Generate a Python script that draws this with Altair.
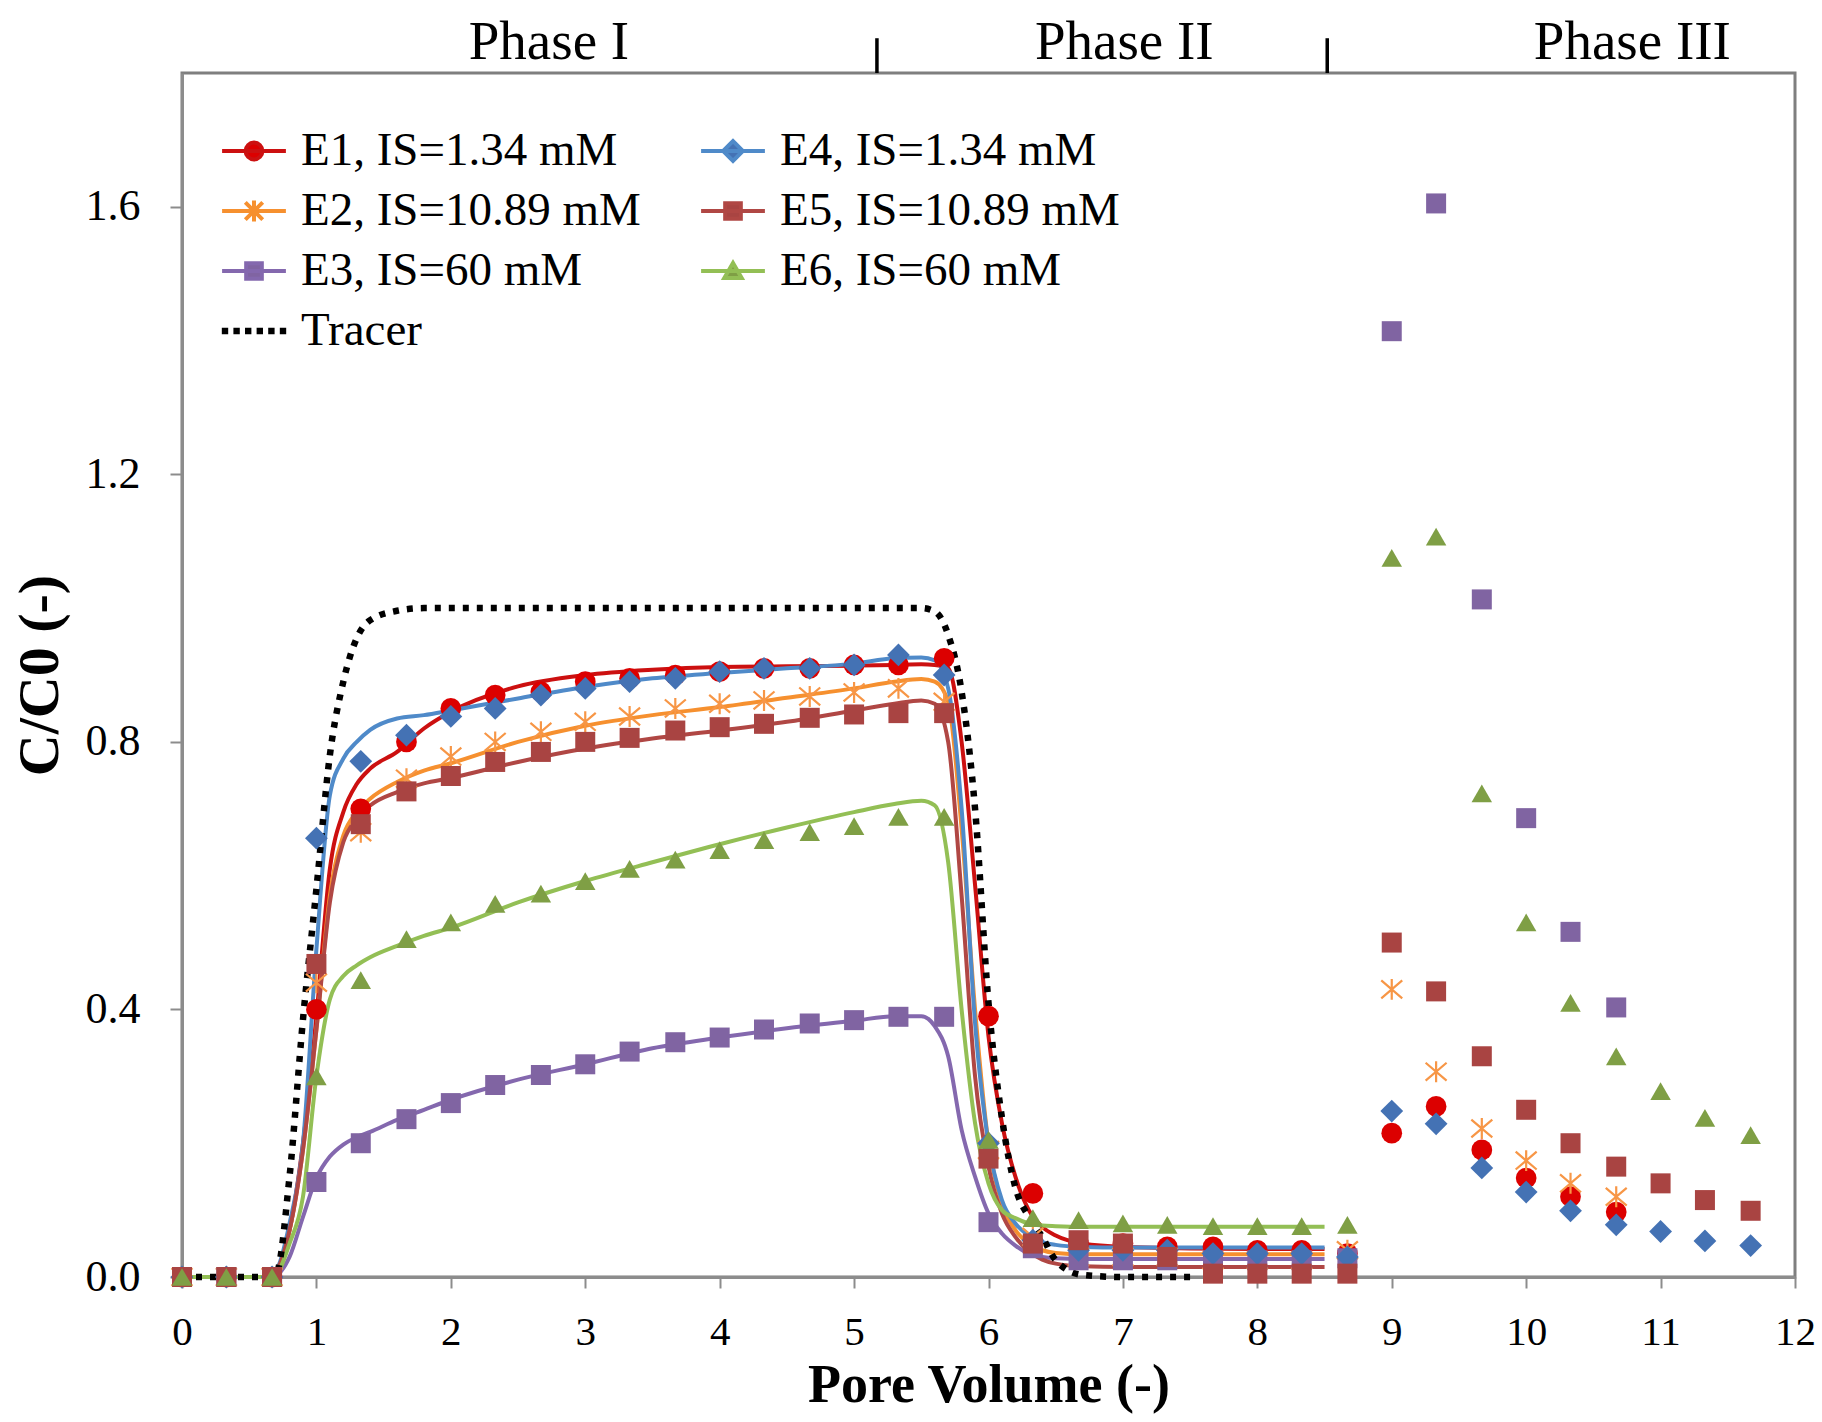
import altair as alt
import pandas as pd

# ---------------- data ----------------
PV = [0, 0.33, 0.67, 1, 1.33, 1.67, 2, 2.33, 2.67, 3, 3.33, 3.67, 4, 4.33, 4.67, 5,
      5.33, 5.67, 6, 6.33, 6.67, 7, 7.33, 7.67, 8, 8.33, 8.67, 9, 9.33, 9.67, 10,
      10.33, 10.67, 11, 11.33, 11.67]

E1 = [0, 0, 0, 0.40, 0.70, 0.80, 0.85, 0.87, 0.875, 0.89, 0.895, 0.90, 0.905, 0.91, 0.91, 0.915,
      0.915, 0.925, 0.39, 0.125, 0.05, 0.05, 0.045, 0.045, 0.04, 0.04, 0.035,
      0.215, 0.255, 0.19, 0.148, 0.12, 0.097, None, None, None]
E2 = [0, 0, 0, 0.44, 0.665, 0.745, 0.778, 0.80, 0.815, 0.83, 0.838, 0.85, 0.857, 0.862, 0.868, 0.874,
      0.88, 0.86, 0.19, 0.06, 0.03, 0.03, 0.03, 0.025, 0.025, 0.025, 0.04,
      0.43, 0.307, 0.222, 0.174, 0.14, 0.12, None, None, None]
E3 = [0, 0, 0, 0.142, 0.20, 0.236, 0.26, 0.287, 0.302, 0.318, 0.337, 0.351, 0.358, 0.37, 0.379, 0.384,
      0.389, 0.389, 0.082, 0.043, 0.025, 0.025, 0.025, 0.025, 0.025, 0.025, 0.028,
      1.414, 1.605, 1.013, 0.686, 0.516, 0.403, None, None, None]
E4 = [0, 0, 0, 0.656, 0.771, 0.81, 0.838, 0.85, 0.87, 0.88, 0.89, 0.895, 0.905, 0.91, 0.91, 0.915,
      0.93, 0.90, 0.20, 0.055, 0.04, 0.04, 0.04, 0.035, 0.035, 0.035, 0.03,
      0.248, 0.229, 0.163, 0.127, 0.099, 0.078, 0.068, 0.054, 0.047]
E5 = [0, 0, 0, 0.468, 0.677, 0.726, 0.749, 0.77, 0.785, 0.80, 0.806, 0.817, 0.822, 0.827, 0.836, 0.841,
      0.843, 0.843, 0.177, 0.05, 0.055, 0.05, 0.03, 0.005, 0.005, 0.005, 0.005,
      0.50, 0.427, 0.33, 0.25, 0.20, 0.165, 0.14, 0.115, 0.099]
E6 = [0, 0, 0, 0.30, 0.444, 0.505, 0.53, 0.558, 0.573, 0.592, 0.61, 0.624, 0.638, 0.653, 0.665, 0.674,
      0.688, 0.688, 0.205, 0.088, 0.085, 0.08, 0.078, 0.076, 0.076, 0.076, 0.078,
      1.075, 1.107, 0.723, 0.53, 0.41, 0.33, 0.278, 0.238, 0.212]

# model (fitted) curves
CX = [0, 0.6, 0.7, 0.8, 0.9, 1.0, 1.1, 1.2, 1.3, 1.4, 1.6, 1.8, 2.0, 2.5, 3.0, 3.5, 4.0, 4.5,
      5.0, 5.3, 5.5, 5.6, 5.7, 5.8, 5.9, 6.0, 6.1, 6.2, 6.3, 6.4, 6.5, 6.7, 7.0, 8.0, 8.5]
M1 = [0, 0, 0.01, 0.07, 0.20, 0.39, 0.61, 0.695, 0.737, 0.76, 0.785, 0.82, 0.845, 0.883, 0.90, 0.908,
      0.912, 0.913, 0.914, 0.915, 0.916, 0.915, 0.91, 0.80, 0.586, 0.36, 0.23, 0.15, 0.10, 0.075,
      0.062, 0.05, 0.045, 0.042, 0.042]
M2 = [0, 0, 0.01, 0.07, 0.19, 0.37, 0.57, 0.66, 0.695, 0.715, 0.74, 0.757, 0.768, 0.80, 0.824, 0.84,
      0.852, 0.866, 0.88, 0.89, 0.894, 0.89, 0.86, 0.67, 0.40, 0.20, 0.11, 0.07, 0.05, 0.04,
      0.036, 0.034, 0.034, 0.034, 0.034]
M3 = [0, 0, 0.003, 0.03, 0.09, 0.148, 0.18, 0.198, 0.209, 0.217, 0.235, 0.25, 0.265, 0.295, 0.318, 0.342,
      0.358, 0.372, 0.383, 0.39, 0.39, 0.375, 0.33, 0.22, 0.15, 0.095, 0.065, 0.047, 0.035, 0.03,
      0.028, 0.027, 0.027, 0.027, 0.027]
M4 = [0, 0, 0.01, 0.08, 0.20, 0.49, 0.72, 0.775, 0.80, 0.818, 0.835, 0.84, 0.847, 0.865, 0.882, 0.895,
      0.903, 0.91, 0.917, 0.925, 0.926, 0.922, 0.88, 0.70, 0.38, 0.20, 0.115, 0.08, 0.062, 0.052,
      0.048, 0.045, 0.044, 0.044, 0.044]
M5 = [0, 0, 0.01, 0.07, 0.19, 0.37, 0.56, 0.65, 0.685, 0.705, 0.725, 0.738, 0.746, 0.77, 0.79, 0.805,
      0.817, 0.83, 0.847, 0.857, 0.862, 0.857, 0.80, 0.57, 0.30, 0.165, 0.095, 0.06, 0.038, 0.026,
      0.02, 0.016, 0.015, 0.015, 0.015]
M6 = [0, 0, 0.005, 0.05, 0.12, 0.30, 0.415, 0.45, 0.466, 0.478, 0.495, 0.51, 0.522, 0.56, 0.592, 0.62,
      0.647, 0.672, 0.695, 0.707, 0.712, 0.705, 0.62, 0.40, 0.23, 0.14, 0.10, 0.088, 0.08, 0.077,
      0.076, 0.075, 0.075, 0.075, 0.075]

# tracer
TX = [0, 0.6, 0.7, 0.8, 0.9, 1.0, 1.1, 1.2, 1.3, 1.4, 1.6, 1.8, 2.5, 3.5, 4.5, 5.3, 5.5, 5.6, 5.7,
      5.8, 5.9, 6.0, 6.1, 6.2, 6.3, 6.4, 6.5, 6.7, 7.0, 7.5]
TY = [0, 0, 0.005, 0.15, 0.385, 0.58, 0.78, 0.89, 0.955, 0.982, 0.996, 1.0, 1.0, 1.0, 1.0, 1.0, 1.0,
      0.995, 0.96, 0.875, 0.70, 0.41, 0.238, 0.134, 0.09, 0.06, 0.025, 0.003, 0, 0]

NAMES = ["E1, IS=1.34 mM", "E2, IS=10.89 mM", "E3, IS=60 mM",
         "E4, IS=1.34 mM", "E5, IS=10.89 mM", "E6, IS=60 mM"]
TRACER = "Tracer"
# legend fills columns first: column 1 = E1, E2, E3, Tracer; column 2 = E4, E5, E6
LEGEND_ORDER = [NAMES[0], NAMES[1], NAMES[2], TRACER, NAMES[3], NAMES[4], NAMES[5]]

PHASE_LABELS = ["Phase I", "Phase II", "Phase III"]
PHASE_X = [2.73, 7.01, 10.79]
PHASE_Y = [1.821, 1.821, 1.821]
DIVIDER_X = [5.17, 8.52]

# ---------------- styles ----------------
LINE_COLOR = {NAMES[0]: "#CC1010", NAMES[1]: "#F6902F", NAMES[2]: "#8468AE",
              NAMES[3]: "#4F8AC9", NAMES[4]: "#B04744", NAMES[5]: "#93BF55", TRACER: "#000000"}
MARK_COLOR = {NAMES[0]: "#DC0000", NAMES[1]: "#F79646", NAMES[2]: "#8064A2",
              NAMES[3]: "#4472B4", NAMES[4]: "#A94442", NAMES[5]: "#7F9F45", TRACER: "#000000"}
ASTER = "M-1,-0.85L1,0.85M-1,0.85L1,-0.85M0,-1L0,1"
MARK_SHAPE = {NAMES[0]: ("circle", True, 430), NAMES[1]: (ASTER, False, 440),
              NAMES[2]: ("square", True, 400), NAMES[3]: ("diamond", True, 520),
              NAMES[4]: ("square", True, 400), NAMES[5]: ("triangle-up", True, 420)}

LN = "M-1.1,0H1.1"
LEG_SHAPE = {
    NAMES[0]: LN + "M0.29,0A0.29,0.29,0,1,1,-0.29,0A0.29,0.29,0,1,1,0.29,0Z",
    NAMES[1]: LN + "M-0.3,-0.3L0.3,0.3M-0.3,0.3L0.3,-0.3M0,-0.36V0.36",
    NAMES[2]: LN + "M-0.27,-0.27H0.27V0.27H-0.27Z",
    NAMES[3]: LN + "M-0.34,0L0,-0.34L0.34,0L0,0.34Z",
    NAMES[4]: LN + "M-0.27,-0.27H0.27V0.27H-0.27Z",
    NAMES[5]: LN + "M-0.3,0.24L0,-0.28L0.3,0.24Z",
}
dots = ""
for c in [-1.0, -0.6, -0.2, 0.2, 0.6, 1.0]:
    dots += "M%.2f,-0.11h0.22v0.22h-0.22Z" % (c - 0.11)
LEG_SHAPE[TRACER] = dots

SERIF = "Liberation Serif"

# ---------------- tables ----------------
obs_rows = []
for name, vals in zip(NAMES, [E1, E2, E3, E4, E5, E6]):
    for x, v in zip(PV, vals):
        if v is not None:
            obs_rows.append({"series": name, "x": x, "y": v})
obs = pd.DataFrame(obs_rows)

mod_rows = []
for name, vals in zip(NAMES, [M1, M2, M3, M4, M5, M6]):
    for x, v in zip(CX, vals):
        mod_rows.append({"series": name, "x": x, "y": v})
model = pd.DataFrame(mod_rows)

tracer = pd.DataFrame({"x": TX, "y": TY})
leg = pd.DataFrame({"series": LEGEND_ORDER, "x": [-1.0] * 7, "y": [0.0] * 7})
phases = pd.DataFrame({"label": PHASE_LABELS, "x": PHASE_X, "y": PHASE_Y})
divs = pd.DataFrame({"x": DIVIDER_X, "y": [1.8, 1.8], "y2": [1.852, 1.852]})

# ---------------- encodings ----------------
X = alt.X("x:Q", title="Pore Volume (-)",
          scale=alt.Scale(domain=[0, 12], nice=False, zero=False),
          axis=alt.Axis(values=list(range(13)), format="d", labelFlush=False))
Y = alt.Y("y:Q", title="C/C0 (-)",
          scale=alt.Scale(domain=[0, 1.8], nice=False),
          axis=alt.Axis(values=[0, 0.4, 0.8, 1.2, 1.6], format=".1f"))

line_scale = alt.Scale(domain=NAMES, range=[LINE_COLOR[n] for n in NAMES])

lines = alt.Chart(model).mark_line(strokeWidth=4, interpolate="monotone").encode(
    x=X, y=Y, color=alt.Color("series:N", scale=line_scale, legend=None))

tracer_line = alt.Chart(tracer).mark_line(
    color="black", strokeWidth=6.5, strokeDash=[6, 8], interpolate="monotone").encode(x=X, y=Y)

marker_layers = []
for name in NAMES:
    shp, filled, size = MARK_SHAPE[name]
    mk = alt.Chart(obs).transform_filter(
        alt.FieldEqualPredicate(field="series", equal=name)
    ).mark_point(shape=shp, filled=filled, size=size, opacity=1,
                 color=MARK_COLOR[name], strokeWidth=2.2).encode(x=X, y=Y)
    marker_layers.append(mk)

legend_layer = alt.Chart(leg).mark_point(filled=True, clip=True, opacity=1, strokeWidth=4).encode(
    x=X, y=Y,
    fill=alt.Fill("series:N", legend=alt.Legend(title=None),
                  scale=alt.Scale(domain=LEGEND_ORDER, range=[MARK_COLOR[n] for n in LEGEND_ORDER])),
    stroke=alt.Stroke("series:N", legend=alt.Legend(title=None),
                      scale=alt.Scale(domain=LEGEND_ORDER,
                                      range=[LINE_COLOR[n] if n != TRACER else "transparent"
                                             for n in LEGEND_ORDER])),
    shape=alt.Shape("series:N", legend=alt.Legend(title=None),
                    scale=alt.Scale(domain=LEGEND_ORDER, range=[LEG_SHAPE[n] for n in LEGEND_ORDER])),
)

phase_text = alt.Chart(phases).mark_text(
    font=SERIF, fontSize=55, baseline="alphabetic", align="center", color="black"
).encode(x=X, y=Y, text="label:N")

div_rules = alt.Chart(divs).mark_rule(color="black", strokeWidth=3.5).encode(
    x=X, y=Y, y2="y2:Q")

chart = alt.layer(lines, tracer_line, *marker_layers, legend_layer, phase_text, div_rules).properties(
    width=1613, height=1204,
    padding={"left": 182, "top": 73, "right": 27, "bottom": 145},
    autosize=alt.AutoSizeParams(type="none"),
    background="white",
).configure_view(
    stroke="#7f7f7f", strokeWidth=3
).configure_axis(
    grid=False, domainColor="#8c8c8c", domainWidth=3, tickColor="#8c8c8c", tickWidth=2,
    tickSize=12, labelFont=SERIF, labelFontSize=44, labelColor="black", labelPadding=30,
    titleFont=SERIF, titleFontSize=58, titleFontWeight="bold", titleColor="black",
    labelOverlap=False,
).configure_axisX(
    tickSize=11, labelFontSize=41, labelPadding=24, titlePadding=6, titleFontSize=54
).configure_axisY(
    titlePadding=16
).configure_legend(
    orient="none", legendX=41, legendY=47, columns=2, columnPadding=52, rowPadding=6,
    symbolSize=58 * 58, symbolStrokeWidth=4, symbolOpacity=1,
    symbolFillColor="black", symbolStrokeColor="black",
    labelFont=SERIF, labelFontSize=47, labelColor="black", labelOffset=16, labelLimit=0,
    padding=0,
)

chart.save("out.html", embed_options={"renderer": "svg", "actions": False})
